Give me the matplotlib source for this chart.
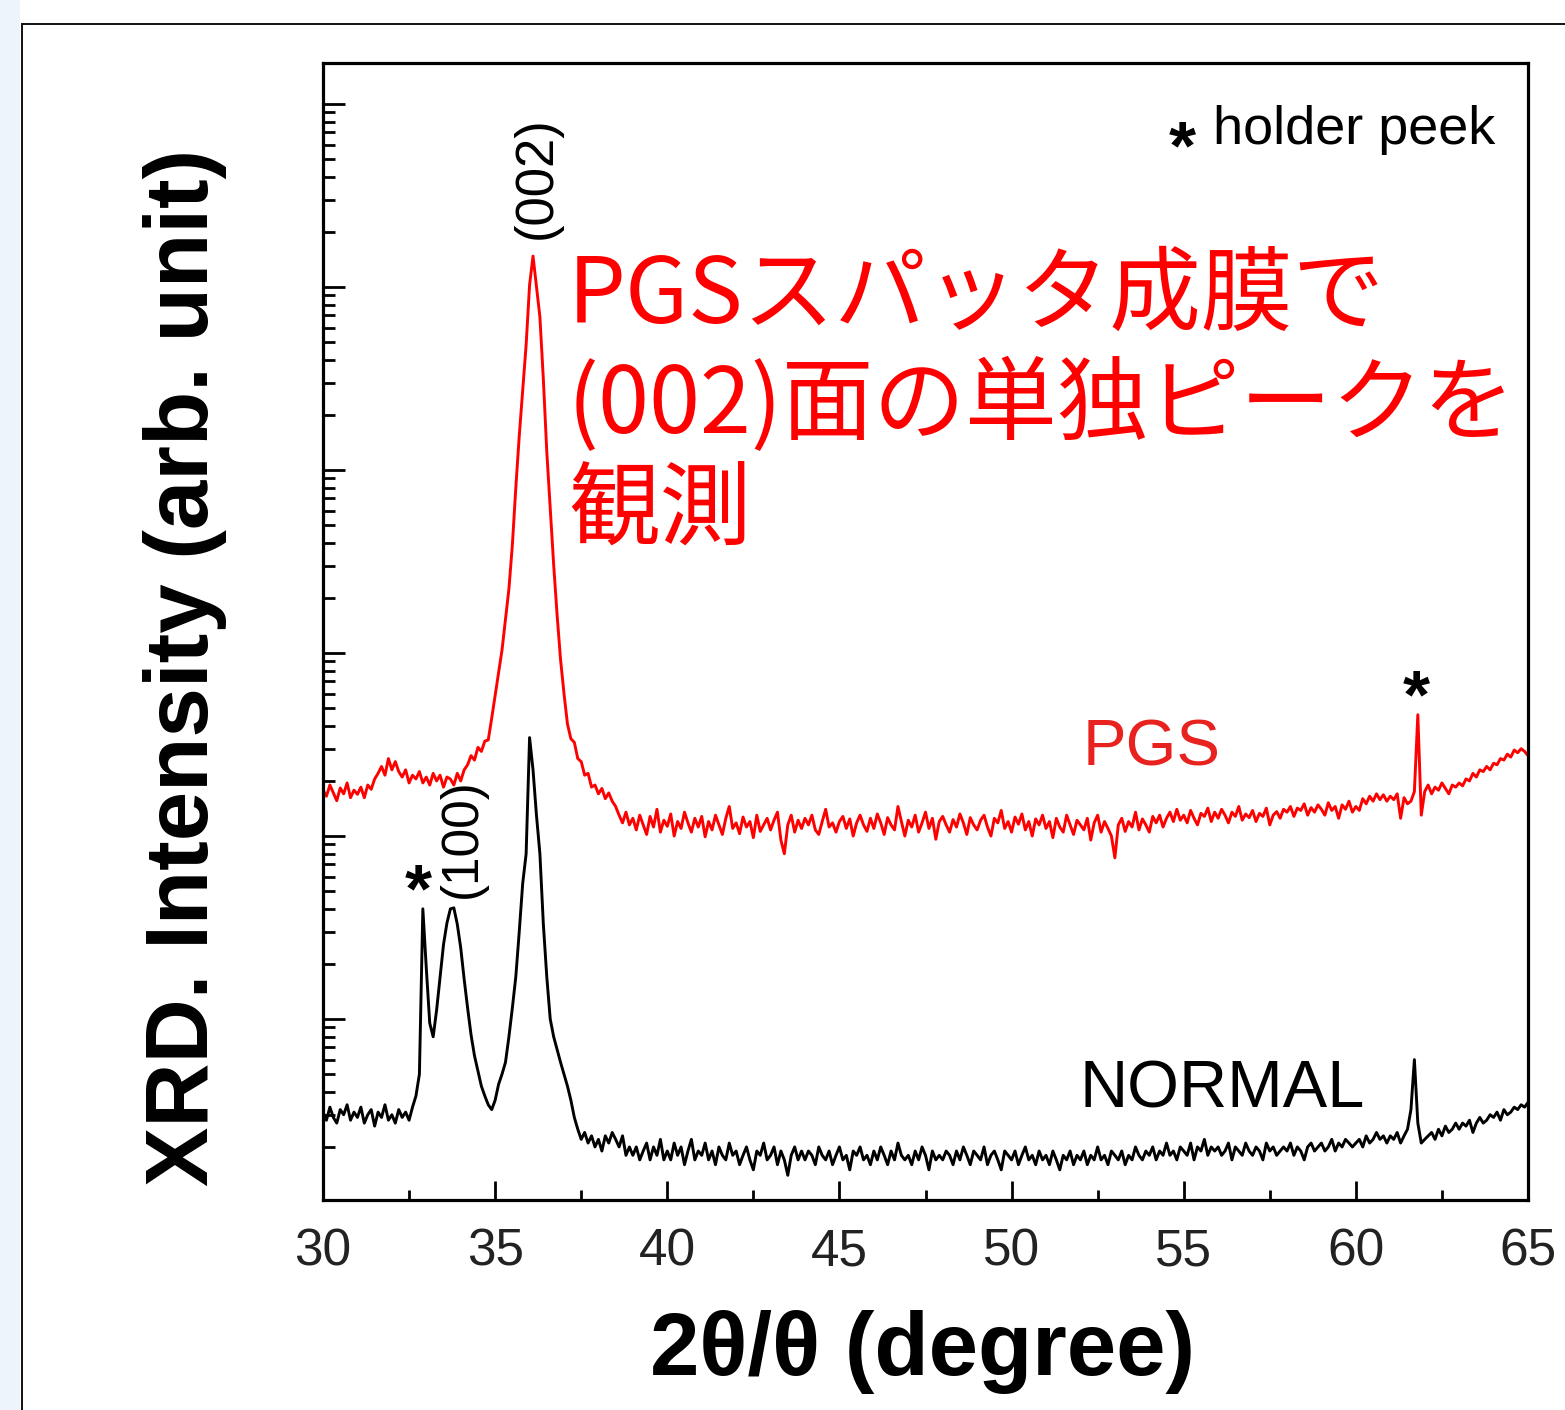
import numpy as np
import matplotlib
matplotlib.use("Agg")
import matplotlib.pyplot as plt
from matplotlib.patches import Rectangle
from matplotlib.ticker import MultipleLocator, LogLocator, NullFormatter

# ---------------- data ----------------
# 2theta scan grid, 0.1 degree step, 30.0 ... 65.0
two_theta_start = 30.0
two_theta_step = 0.1

normal_counts = [
    31, 28, 33, 29, 27, 32, 30, 34, 28, 31,          # 30
    29, 33, 27, 30, 32, 26, 31, 29, 34, 28,          # 31
    30, 27, 32, 29, 31, 28, 33, 38, 50, 400,         # 32
    190, 95, 80, 112, 170, 255, 335, 400, 405, 330,  # 33
    245, 165, 115, 82, 63, 52, 43, 38, 34, 32,       # 34
    36, 44, 50, 58, 80, 115, 170, 300, 550, 800,     # 35
    3450, 2300, 1300, 800, 330, 170, 100, 80, 68, 58,  # 36
    50, 43, 36, 29, 25, 22, 24, 21, 23, 20,          # 37
    22, 19, 23, 21, 24, 22, 20, 23, 18, 20,          # 38
    18, 20, 17, 19, 21, 17, 20, 18, 22, 17,          # 39
    19, 17, 21, 18, 20, 16, 19, 22, 17, 19,          # 40
    18, 21, 17, 19, 16, 20, 18, 17, 21, 18,          # 41
    19, 16, 18, 20, 17, 15, 19, 18, 21, 17,          # 42
    18, 20, 16, 19, 17, 14, 18, 20, 17, 19,          # 43
    17, 19, 18, 16, 20, 18, 17, 19, 16, 18,          # 44
    20, 17, 18, 15, 19, 18, 20, 17, 18, 16,          # 45
    19, 17, 20, 18, 16, 19, 17, 21, 18, 17,          # 46
    18, 16, 19, 17, 20, 18, 15, 19, 17, 18,          # 47
    17, 19, 18, 16, 19, 17, 20, 18, 16, 19,          # 48
    18, 17, 20, 16, 18, 19, 17, 15, 19, 18,          # 49
    17, 19, 16, 18, 20, 17, 18, 16, 19, 17,          # 50
    18, 16, 19, 17, 15, 18, 17, 19, 16, 18,          # 51
    17, 19, 16, 18, 17, 20, 17, 18, 16, 19,          # 52
    18, 17, 19, 16, 18, 17, 20, 18, 17, 19,          # 53
    18, 20, 17, 19, 18, 21, 18, 19, 17, 20,          # 54
    19, 18, 21, 17, 20, 19, 22, 18, 20, 19,          # 55
    20, 18, 19, 21, 17, 20, 19, 18, 21, 19,          # 56
    18, 20, 19, 17, 21, 19, 20, 18, 19, 20,          # 57
    19, 21, 18, 20, 19, 17, 20, 21, 19, 20,          # 58
    21, 19, 20, 22, 19, 21, 20, 22, 21, 20,          # 59
    21, 22, 20, 23, 21, 22, 24, 22, 23, 21,          # 60
    23, 22, 24, 21, 23, 25, 32, 60, 27, 21,          # 61
    22, 23, 24, 22, 25, 23, 26, 24, 25, 27,          # 62
    25, 27, 26, 28, 24, 27, 29, 27, 28, 30,          # 63
    29, 31, 28, 32, 30, 31, 33, 32, 34, 33,          # 64
    35,                                              # 65
]

pgs_counts = [
    1780, 1650, 1900, 1720, 1560, 1830, 1700, 1950, 1620, 1780,   # 30
    1690, 1850, 1620, 1900, 1800, 2050, 2200, 2400, 2150, 2650,   # 31
    2300, 2550, 2250, 2100, 2300, 1950, 2150, 2050, 2250, 1950,   # 32
    2100, 1900, 2200, 2000, 2150, 1850, 2100, 2050, 1900, 2200,   # 33
    2000, 2300, 2450, 2750, 2600, 3050, 2900, 3300, 3350, 4400,   # 34
    5850, 7800, 10400, 15200, 22400, 38900, 79800, 153500, 270000, 482000,  # 35
    1026000, 1476000, 1012000, 686000, 314000, 126000, 61200, 30300, 16100, 9200,  # 36
    6000, 4100, 3400, 3250, 2650, 2550, 2150, 2200, 1850, 1900,   # 37
    1700, 1820, 1600, 1720, 1550, 1450, 1300, 1180, 1350, 1150,   # 38
    1250, 1080, 1300, 1150, 1020, 1280, 1120, 1400, 1050, 1220,   # 39
    1130, 1320, 1000, 1200, 1100, 1350, 1180, 1050, 1250, 1120,   # 40
    1280, 990, 1200, 1080, 1300, 1150, 1020, 1250, 1450, 1100,    # 41
    1180, 1030, 1270, 1120, 1200, 980, 1300, 1060, 1150, 1250,    # 42
    1080, 1220, 1350, 950, 800, 1150, 1300, 1050, 1220, 1100,     # 43
    1250, 1150, 1300, 1080, 1020, 1200, 1400, 1120, 1180, 1050,   # 44
    1200, 1280, 1100, 1240, 1000, 1180, 1300, 1150, 1060, 1250,   # 45
    1100, 1320, 1180, 1020, 1260, 1150, 1080, 1450, 1200, 1000,   # 46
    1220, 1120, 1300, 1050, 1180, 1350, 1100, 1250, 960, 1200,    # 47
    1280, 1150, 1050, 1230, 1120, 1320, 1180, 1020, 1260, 1150,   # 48
    1080, 1220, 1300, 1120, 1000, 1250, 1180, 1380, 1100, 1200,   # 49
    1050, 1270, 1160, 1320, 1080, 1200, 1000, 1240, 1150, 1300,   # 50
    1100, 1200, 980, 1250, 1120, 1050, 1300, 1150, 1020, 1220,    # 51
    1150, 1080, 1250, 950, 1180, 1300, 1050, 1200, 1100, 1000,    # 52
    760, 1150, 1250, 1060, 1200, 1120, 1350, 1080, 1240, 1150,    # 53
    1050, 1280, 1180, 1300, 1120, 1250, 1350, 1200, 1400, 1220,   # 54
    1300, 1180, 1380, 1250, 1150, 1330, 1280, 1420, 1200, 1350,   # 55
    1250, 1400, 1300, 1180, 1350, 1280, 1450, 1220, 1320, 1260,   # 56
    1380, 1200, 1330, 1280, 1420, 1150, 1300, 1360, 1250, 1400,   # 57
    1350, 1450, 1280, 1420, 1380, 1500, 1300, 1430, 1350, 1480,   # 58
    1400, 1300, 1520, 1380, 1450, 1250, 1480, 1400, 1550, 1350,   # 59
    1450, 1380, 1600, 1500, 1650, 1550, 1700, 1580, 1680, 1550,   # 60
    1650, 1580, 1700, 1250, 1620, 1500, 1550, 1750, 4600, 1300,   # 61
    1750, 1900, 1700, 1850, 1780, 1950, 1820, 1700, 1900, 1850,   # 62
    1950, 1880, 2050, 2000, 2200, 2100, 2300, 2250, 2400, 2300,   # 63
    2500, 2450, 2650, 2600, 2800, 2700, 2950, 2850, 3000, 2900,   # 64
    2750,                                                         # 65
]

x_ticks = [30, 35, 40, 45, 50, 55, 60, 65]
x_tick_labels = ["30", "35", "40", "45", "50", "55", "60", "65"]

two_theta = np.round(two_theta_start + two_theta_step * np.arange(len(normal_counts)), 2)

# ---------------- figure ----------------
W, H = 1565, 1410
fig = plt.figure(figsize=(W / 100, H / 100), dpi=100)
fig.patch.set_facecolor("white")

# light strip on the left and the outer frame line
fig.add_artist(Rectangle((0, 0), 20 / W, 1, transform=fig.transFigure,
                         facecolor="#edf4fb", edgecolor="none", zorder=0))
fig.add_artist(Rectangle((22 / W, -0.05), 1.2, (H - 24) / H + 0.05,
                         transform=fig.transFigure, fill=False,
                         edgecolor="#111111", linewidth=1.4, zorder=0))

L, R, T, B = 323, 1528, 63, 1200
ax = fig.add_axes([L / W, (H - B) / H, (R - L) / W, (B - T) / H])

ax.plot(two_theta, pgs_counts, color="#ff0000", linewidth=2.1)
ax.plot(two_theta, normal_counts, color="black", linewidth=2.1)

ax.set_yscale("log")
ax.set_xlim(30, 65)
ax.set_ylim(10.26, 1.675e7)

ax.yaxis.set_major_locator(LogLocator(base=10, numticks=20))
ax.yaxis.set_minor_locator(LogLocator(base=10, subs=np.arange(2, 10), numticks=20))
ax.yaxis.set_major_formatter(NullFormatter())
ax.yaxis.set_minor_formatter(NullFormatter())

ax.xaxis.set_major_locator(MultipleLocator(5))
ax.xaxis.set_minor_locator(MultipleLocator(2.5))
ax.set_xticks(x_ticks)
ax.set_xticklabels(x_tick_labels)

for s in ax.spines.values():
    s.set_linewidth(2.3)

ax.tick_params(axis="y", which="major", direction="in", length=16, width=2.0,
               left=True, right=False)
ax.tick_params(axis="y", which="minor", direction="in", length=8.5, width=2.0,
               left=True, right=False)
ax.tick_params(axis="x", which="major", direction="in", length=14, width=2.0,
               top=False, labelsize=37, pad=20)
ax.tick_params(axis="x", which="minor", direction="in", length=7, width=2.0, top=False)
for lab in ax.get_xticklabels():
    lab.set_fontfamily("Liberation Sans")
    lab.set_color("#222222")

sans = "Liberation Sans"

# axis titles
fig.text(185 / W, 1 - 667 / H, "XRD. Intensity (arb. unit)", rotation=90,
         ha="center", va="center", fontsize=64, fontweight="bold", family=sans)
fig.text(923 / W, 1 - 1352 / H, "2θ/θ (degree)", ha="center", va="center",
         fontsize=64, fontweight="bold", family=sans)

def fx(px):
    return (px - L) / (R - L)

def fy(py):
    return (B - py) / (B - T)

# peak labels
ax.text(fx(537), fy(178), "(002)", rotation=90, ha="center", va="center",
        fontsize=38, family=sans, transform=ax.transAxes)
ax.text(fx(462), fy(838), "(100)", rotation=90, ha="center", va="center",
        fontsize=37, family=sans, transform=ax.transAxes)
ax.text(fx(418), fy(893), "*", ha="center", va="center", fontsize=50,
        fontweight="bold", family=sans, transform=ax.transAxes)
ax.text(fx(1416), fy(699), "*", ha="center", va="center", fontsize=50,
        fontweight="bold", family=sans, transform=ax.transAxes)

# legend-like note
ax.text(fx(1182), fy(150), "*", ha="center", va="center", fontsize=50,
        fontweight="bold", family=sans, transform=ax.transAxes)
ax.text(fx(1213), fy(130), "holder peek", ha="left", va="center", fontsize=39,
        family=sans, transform=ax.transAxes)

# series labels
ax.text(fx(1152), fy(748), "PGS", ha="center", va="center", fontsize=47,
        color="#e8231f", family=sans, transform=ax.transAxes)
ax.text(fx(1222), fy(1090), "NORMAL", ha="center", va="center", fontsize=48,
        color="black", family=sans, transform=ax.transAxes)

# Japanese annotation
jp = ["Noto Sans CJK JP", "DejaVu Sans"]
for txt, yc in [("PGSスパッタ成膜で", 297), ("(002)面の単独ピークを", 406), ("観測", 513)]:
    ax.text(fx(568), fy(yc), txt, ha="left", va="center", fontsize=66,
            color="#ff0000", family=jp, fontweight="normal",
            transform=ax.transAxes, clip_on=False)

fig.savefig("out.png", dpi=100)
